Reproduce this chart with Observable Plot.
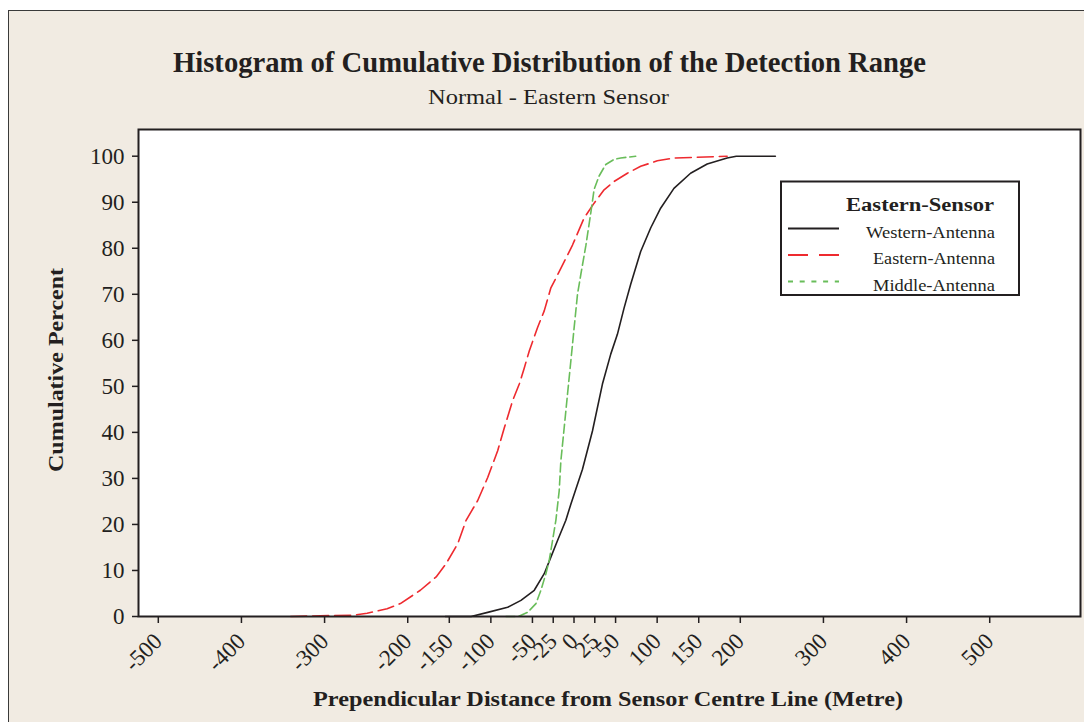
<!DOCTYPE html>
<html>
<head>
<meta charset="utf-8">
<script src="https://cdn.jsdelivr.net/npm/d3@7"></script>
<script src="https://cdn.jsdelivr.net/npm/@observablehq/plot@0.6"></script>
<style>
  html, body { margin: 0; padding: 0; background: #ffffff; }
  #page { position: relative; width: 1084px; height: 722px; overflow: hidden; background: #ffffff; }
  #panel { position: absolute; left: 8px; top: 10px; width: 1200px; height: 800px;
           background: #f1ebe2; border-left: 1.5px solid #3a3a3a; border-top: 1.5px solid #3a3a3a; }
  #chart, #overlay { position: absolute; left: 0; top: 0; }
</style>
</head>
<body>
<div id="page">
  <div id="panel"></div>
  <div id="chart"></div>
  <svg id="overlay" width="1084" height="722"></svg>
</div>
<script>
// ---- data ----
const title = "Histogram of Cumulative Distribution of the Detection Range";
const subtitle = "Normal - Eastern Sensor";
const xLabel = "Prepend\u0069cular Distance from Sensor Centre Line (Metre)";
const yLabel = "Cumulative Percent";
const legendTitle = "Eastern-Sensor";
const seriesNames = ["Western-Antenna", "Eastern-Antenna", "Middle-Antenna"];
const seriesColors = ["#231f20", "#ee2a2f", "#69bd5a"];

const xTicks = [-500, -400, -300, -200, -150, -100, -50, -25, 0, 25, 50, 100, 150, 200, 300, 400, 500];
const yTicks = [0, 10, 20, 30, 40, 50, 60, 70, 80, 90, 100];

const westernX = [-150, -119, -99, -75, -59, -43, -31, -23, -15, -5, 1, 15, 27, 39, 49, 57, 65, 73, 85, 97, 109, 125, 145, 165, 189, 200, 247];
const westernY = [0, 0, 0.9, 2, 3.5, 5.7, 9.3, 12.9, 16.5, 20.9, 24.4, 32, 40.3, 50.5, 57, 61.3, 67, 72.2, 79.3, 84.4, 88.7, 93, 96.3, 98.3, 99.6, 100, 100];

const easternX = [-336, -260, -244, -220, -204, -180, -161, -149, -135, -125, -111, -99, -87, -79, -69, -61, -55, -49, -39, -31, -23, -13, 3, 17, 29, 41, 53, 69, 85, 105, 125, 189];
const easternY = [0, 0.3, 0.7, 1.7, 2.8, 5.7, 8.6, 11.5, 15.8, 20.9, 25.2, 30.2, 36, 41, 46.9, 50.5, 54, 57.7, 62.8, 66.4, 71.4, 74.9, 80.7, 86.6, 89.8, 92.7, 94.5, 96.3, 97.8, 99, 99.6, 100];

const middleX = [-77, -62, -51, -41, -35, -29, -25, -21, -17, -13, -11, -7, -3, 1, 5, 9, 13, 19, 25, 29, 35, 43, 53, 61, 79];
const middleY = [0, 0, 0.9, 2.8, 5.7, 9.3, 12.2, 16.5, 20.9, 27.3, 33.8, 41, 48.3, 55.5, 62.8, 70, 74.3, 80.5, 87.7, 92.8, 95.7, 98.2, 99.3, 99.6, 100];

// ---- build tables ----
const toRows = (xs, ys) => xs.map((x, i) => ({x, y: ys[i]}));
const western = toRows(westernX, westernY);
const eastern = toRows(easternX, easternY);
const middle = toRows(middleX, middleY);

const font = "'Liberation Serif', 'Times New Roman', serif";

const plot = Plot.plot({
  width: 1084,
  height: 722,
  marginLeft: 138,
  marginRight: 4,
  marginTop: 129,
  marginBottom: 106,
  style: {background: "transparent", fontFamily: font, fontSize: "22px", color: "#231f20"},
  x: {domain: [-519, 614], label: null},
  y: {domain: [0, 105.8], label: null},
  marks: [
    Plot.frame({fill: "white", stroke: null}),
    Plot.line(western, {x: "x", y: "y", stroke: seriesColors[0], strokeWidth: 1.6}),
    Plot.line(eastern, {x: "x", y: "y", stroke: seriesColors[1], strokeWidth: 1.6, strokeDasharray: "16,6"}),
    Plot.line(middle, {x: "x", y: "y", stroke: seriesColors[2], strokeWidth: 1.6, strokeDasharray: "9,4"}),
    Plot.frame({stroke: "#231f20", strokeWidth: 2}),
    Plot.axisY({ticks: yTicks, tickSize: 6, tickPadding: 8, label: null, strokeWidth: 1.5}),
    Plot.axisX({ticks: xTicks, tickSize: 7, tickPadding: 14, tickRotate: -45, dx: 4,
                tickFormat: d => String(d), label: null, strokeWidth: 1.5})
  ]
});
document.getElementById("chart").appendChild(plot);
// enforce tick label sizes with inline styles
d3.select(plot).selectAll('g[aria-label="x-axis tick label"] text').style("font-size", "23px");
d3.select(plot).selectAll('g[aria-label="y-axis tick label"] text').style("font-size", "23px");

// ---- titles, axis labels and legend ----
const svg = d3.select("#overlay").style("font-family", font).style("fill", "#231f20");
function txt(s, x, y, size, weight, len, anchor) {
  const t = svg.append("text").attr("x", x).attr("y", y)
    .attr("font-size", size).attr("font-weight", weight)
    .attr("text-anchor", anchor || "start").text(s);
  if (len) t.attr("textLength", len).attr("lengthAdjust", "spacingAndGlyphs");
  return t;
}
txt(title, 173, 72, 29, "bold", 753);
txt(subtitle, 428, 104, 21, "normal", 241);
txt(xLabel, 313, 706, 21, "bold", 590);
svg.append("text").attr("transform", "translate(63,370) rotate(-90)")
  .attr("text-anchor", "middle").attr("font-size", 21).attr("font-weight", "bold")
  .attr("textLength", 204).attr("lengthAdjust", "spacingAndGlyphs").text(yLabel);

// legend
svg.append("rect").attr("x", 781).attr("y", 181.5).attr("width", 238).attr("height", 113.5)
  .attr("fill", "white").attr("stroke", "#231f20").attr("stroke-width", 2);
txt(legendTitle, 846, 211, 18, "bold", 148);
const lgY = [228.5, 255, 281.5];
const lgText = [[866, 129], [873, 122], [873, 122]];
const lgDash = [null, "20,11", "5,6.7"];
seriesNames.forEach((n, i) => {
  const l = svg.append("line").attr("x1", 788).attr("x2", 839).attr("y1", lgY[i]).attr("y2", lgY[i])
    .attr("stroke", seriesColors[i]).attr("stroke-width", 1.8);
  if (lgDash[i]) l.attr("stroke-dasharray", lgDash[i]);
  txt(n, lgText[i][0], lgY[i] + 9, 17, "normal", lgText[i][1]);
});
</script>
</body>
</html>
